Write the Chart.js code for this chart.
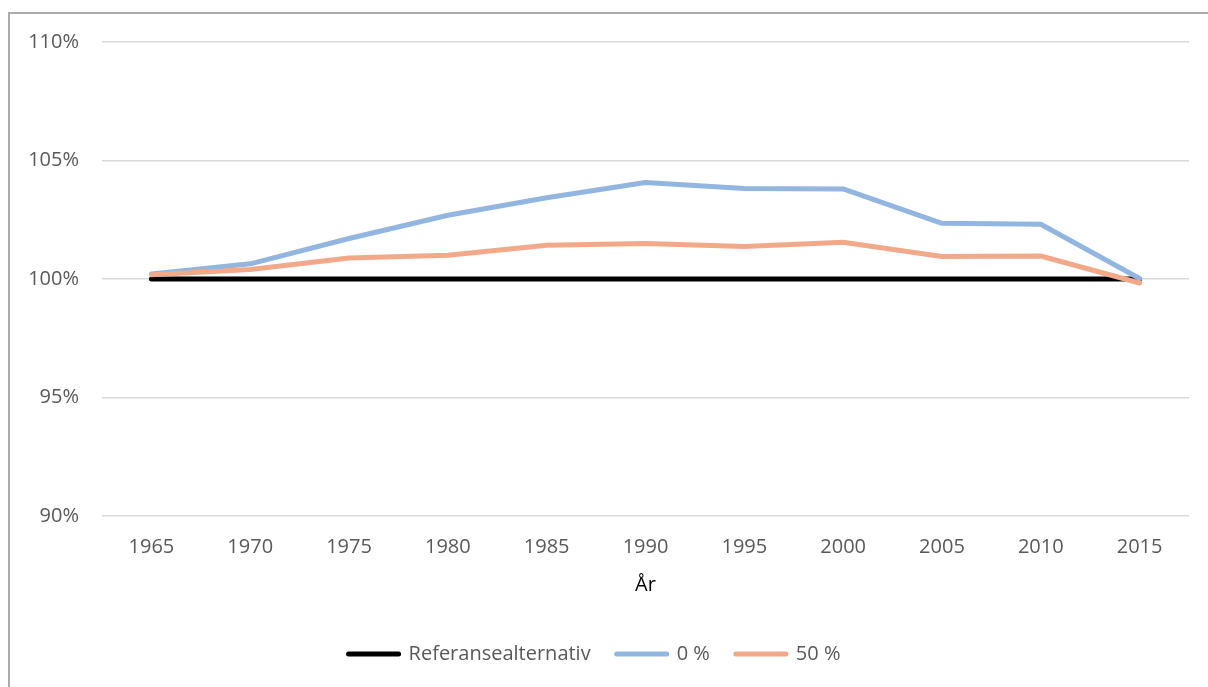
<!DOCTYPE html>
<html>
<head>
<meta charset="utf-8">
<script src="https://cdn.jsdelivr.net/npm/chart.js@4/dist/chart.umd.min.js"></script>
<style>
  html, body { margin: 0; padding: 0; background: #fff; }
  #wrap { position: relative; width: 1208px; height: 687px; }
  canvas { display: block; }
</style>
</head>
<body>
<div id="wrap"><canvas id="c" width="1208" height="687"></canvas></div>
<script>
// Years on the horizontal axis
const years = ['1965','1970','1975','1980','1985','1990','1995','2000','2005','2010','2015'];

// Index values in percent of the reference alternative
const referanse = [100,100,100,100,100,100,100,100,100,100,100];
const null_prosent = [100.21,100.64,101.71,102.69,103.43,104.07,103.82,103.80,102.35,102.31,100.02];
const femti_prosent = [100.18,100.40,100.89,101.00,101.42,101.50,101.37,101.55,100.95,100.97,99.83];

// Y axis range and tick step (percent)
const yMin = 90, yMax = 110, yStep = 5;

const FONT = '"Open Sans", "Liberation Sans", sans-serif';

// Frame around the chart (left and top edges)
const framePlugin = {
  id: 'frame',
  beforeDraw(chart) {
    const ctx = chart.ctx;
    ctx.save();
    ctx.strokeStyle = '#ababab';
    ctx.lineWidth = 2;
    ctx.beginPath();
    ctx.moveTo(9, chart.height + 2);
    ctx.lineTo(9, 13);
    ctx.lineTo(chart.width + 2, 13);
    ctx.stroke();
    ctx.restore();
  }
};

new Chart(document.getElementById('c'), {
  type: 'line',
  data: {
    labels: years,
    datasets: [
      {
        label: 'Referansealternativ',
        data: referanse,
        borderColor: '#000000',
        backgroundColor: '#000000',
        borderWidth: 5,
        order: 3
      },
      {
        label: '0 %',
        data: null_prosent,
        borderColor: '#93b6e0',
        backgroundColor: '#93b6e0',
        borderWidth: 5,
        order: 2
      },
      {
        label: '50 %',
        data: femti_prosent,
        borderColor: '#f1a98a',
        backgroundColor: '#f1a98a',
        borderWidth: 5,
        order: 1
      }
    ]
  },
  options: {
    responsive: false,
    animation: false,
    devicePixelRatio: 1,
    layout: { padding: { top: 42, right: 19, bottom: 13, left: 0 } },
    elements: {
      line: { tension: 0, borderCapStyle: 'round', borderJoinStyle: 'round', fill: false },
      point: { radius: 0, hoverRadius: 0 }
    },
    plugins: {
      legend: {
        position: 'bottom',
        labels: {
          usePointStyle: true,
          pointStyle: 'line',
          pointStyleWidth: 50,
          boxHeight: 20,
          padding: 26,
          color: '#595959',
          font: { family: FONT, size: 20 },
          sort: (a, b) => a.datasetIndex - b.datasetIndex,
          generateLabels(chart) {
            const items = Chart.defaults.plugins.legend.labels.generateLabels(chart);
            items.forEach(it => { it.pointStyle = 'line'; it.lineWidth = 5; it.lineCap = 'round'; });
            return items;
          }
        }
      },
      tooltip: { enabled: false }
    },
    scales: {
      x: {
        offset: true,
        grid: { display: false, drawTicks: false },
        border: { display: false },
        ticks: { color: '#595959', font: { family: FONT, size: 20 }, padding: 19, maxRotation: 0 },
        title: {
          display: true,
          text: 'År',
          color: '#000000',
          font: { family: FONT, size: 20 },
          padding: { top: 0, bottom: 21 }
        },
        afterFit(scale) { scale.height = 102; }
      },
      y: {
        min: yMin,
        max: yMax,
        grid: { color: '#d9d9d9', lineWidth: 1.5, drawTicks: false },
        border: { display: false },
        ticks: {
          stepSize: yStep,
          color: '#595959',
          font: { family: FONT, size: 20 },
          padding: 23,
          callback: v => v + '%'
        },
        afterFit(scale) { scale.width = 102; }
      }
    }
  },
  plugins: [framePlugin]
});
</script>
</body>
</html>
